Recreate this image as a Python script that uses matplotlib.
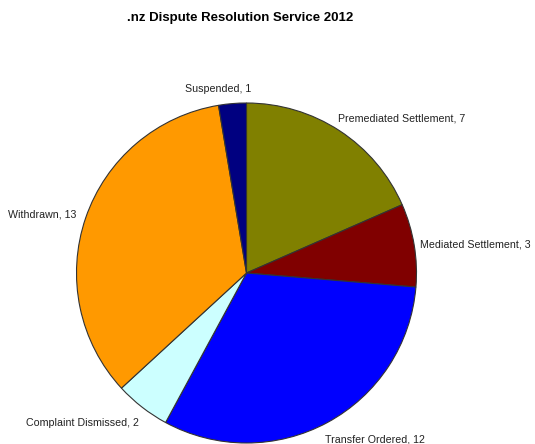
import numpy as np
import matplotlib.pyplot as plt

plt.rcParams['font.family'] = ['Liberation Sans', 'DejaVu Sans']

categories = ['Premediated Settlement', 'Mediated Settlement', 'Transfer Ordered',
              'Complaint Dismissed', 'Withdrawn', 'Suspended']
counts = [7, 3, 12, 2, 13, 1]
colors = ['#808000', '#800000', '#0000FF', '#CCFFFF', '#FF9900', '#000080']

W, H = 535, 444
fig = plt.figure(figsize=(W / 100, H / 100), dpi=100)
ax = fig.add_axes([0, 0, 1, 1])

cx, cy, r = 246.5, H - 273, 170
wedges, _ = ax.pie(counts, colors=colors, startangle=90, counterclock=False,
                   center=(cx, cy), radius=r,
                   wedgeprops=dict(edgecolor='#333333', linewidth=0.8))
ax.set_xlim(0, W)
ax.set_ylim(0, H)
ax.set_aspect('equal')
ax.axis('off')

# labels just outside each slice, anchored on the side facing away from the pie
for w, name, n in zip(wedges, categories, counts):
    ang = np.deg2rad((w.theta1 + w.theta2) / 2)
    x = cx + 1.1 * r * np.cos(ang)
    y = cy + 1.1 * r * np.sin(ang) - 2
    if np.cos(ang) >= 0:
        ax.text(x - 11, y, f'{name}, {n}', ha='left', va='center', fontsize=7.7, color='#222222')
    else:
        off = 20 if abs(np.cos(ang)) < 0.2 else 7
        ax.text(x + off, y, f'{name}, {n}', ha='right', va='center', fontsize=7.7, color='#222222')

fig.text(240 / W, 1 - 18 / H, '.nz Dispute Resolution Service 2012',
         ha='center', va='center', fontsize=9.5, fontweight='bold')

fig.savefig('out.png', dpi=100)
